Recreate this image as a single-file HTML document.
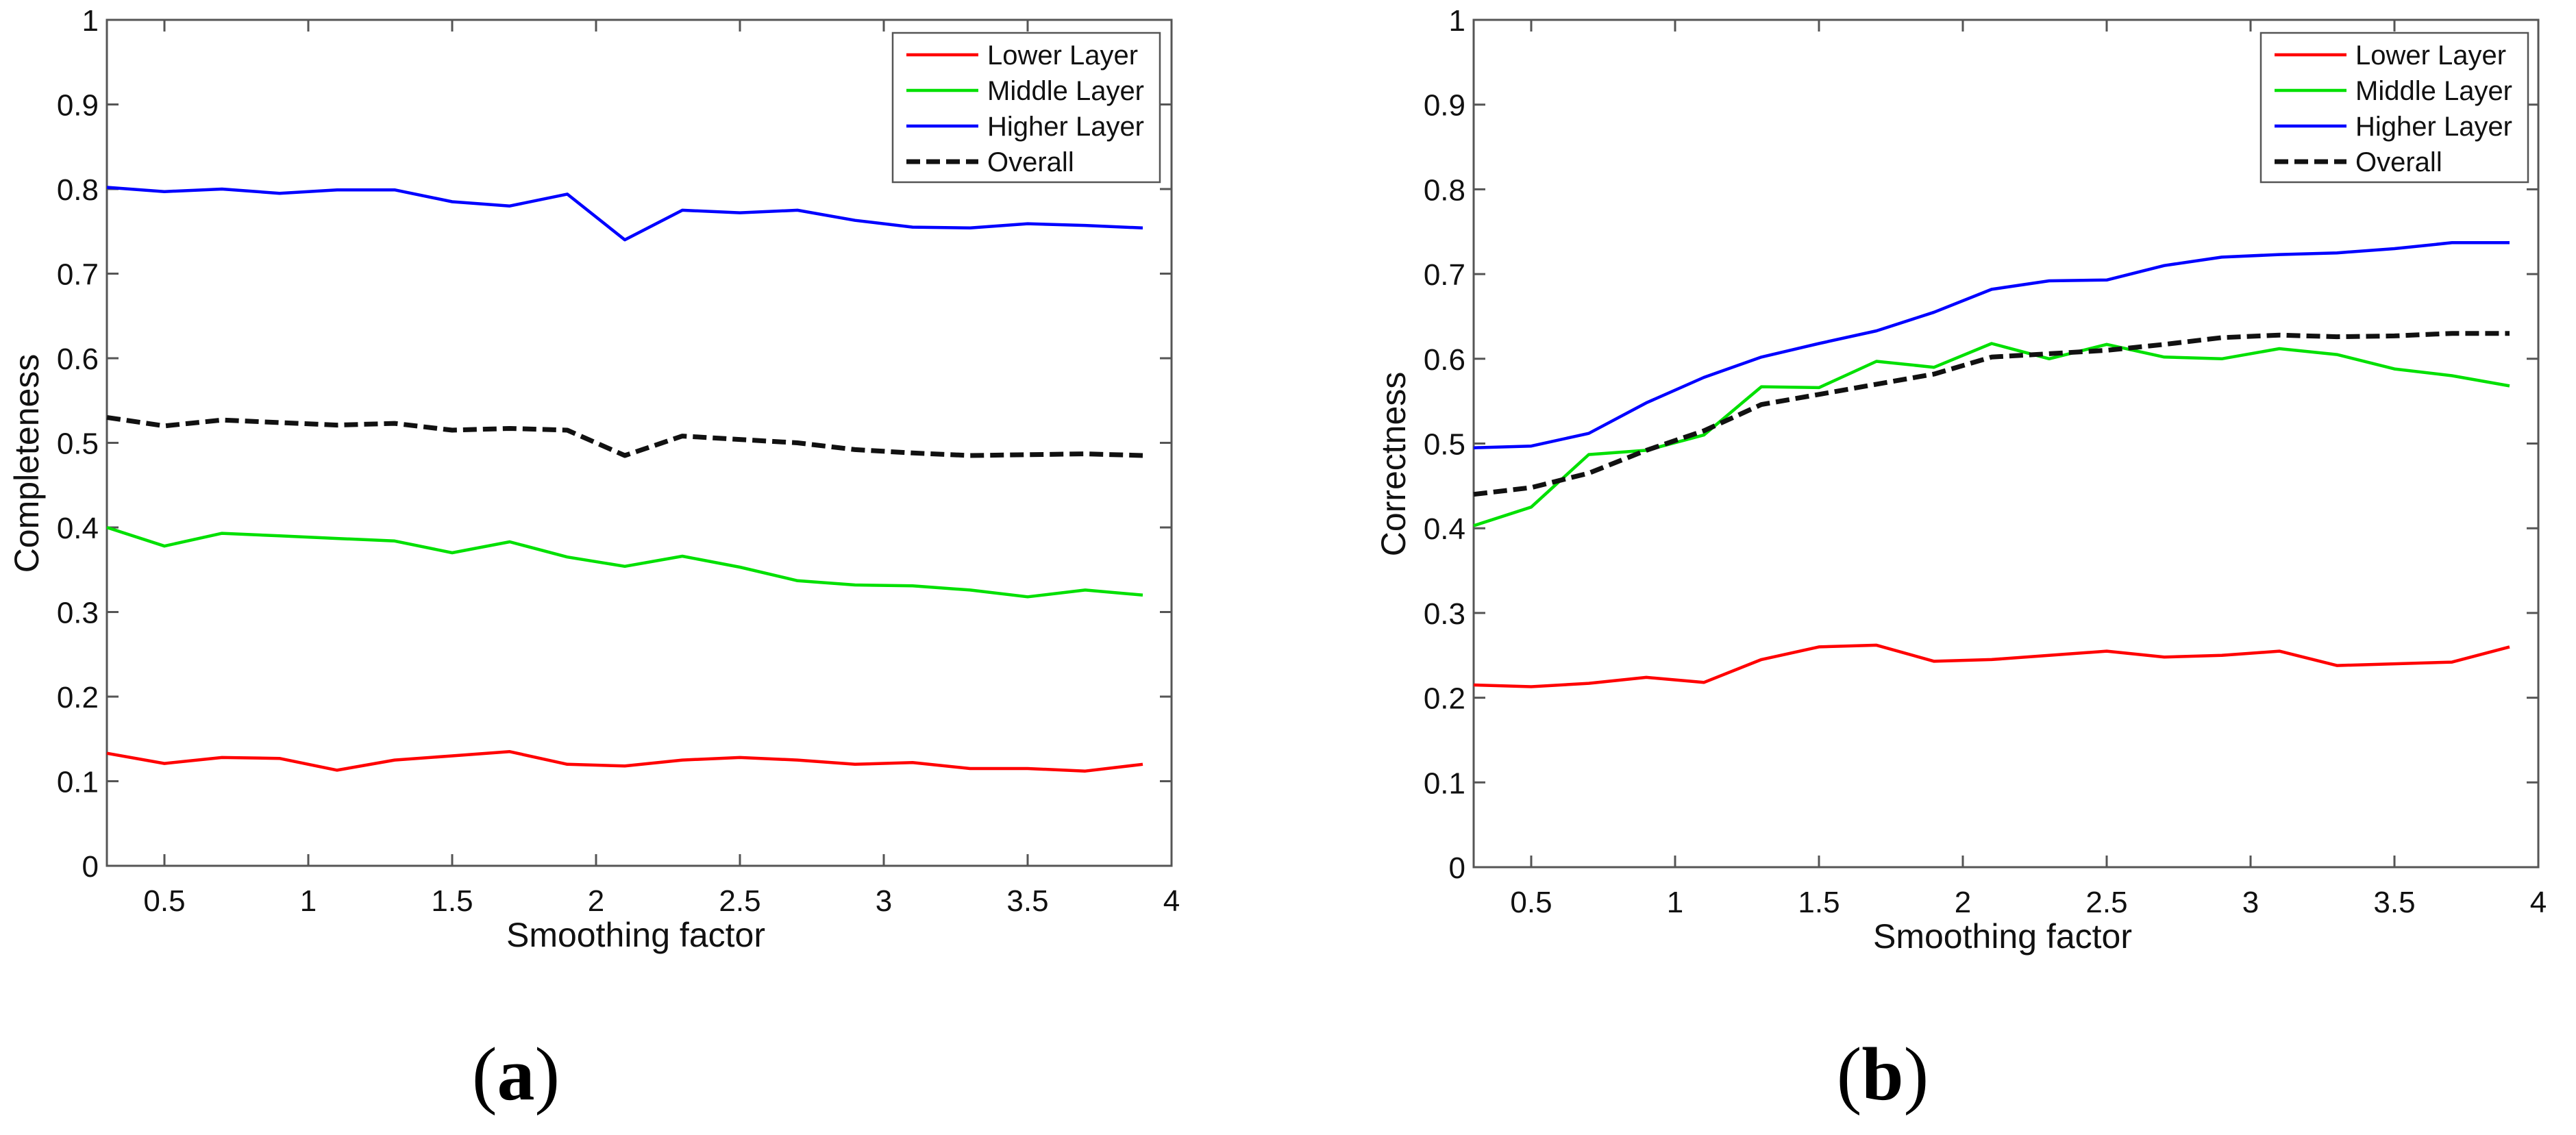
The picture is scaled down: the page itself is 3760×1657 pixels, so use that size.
<!DOCTYPE html>
<html><head><meta charset="utf-8"><style>
html,body{margin:0;padding:0;background:#fff;}
svg{display:block;font-family:"Liberation Sans",sans-serif;}
</style></head><body>
<svg id="chart" width="3760" height="1657" xmlns="http://www.w3.org/2000/svg"></svg>
<script>
const xValues = [0.3,0.5,0.7,0.9,1.1,1.3,1.5,1.7,1.9,2.1,2.3,2.5,2.7,2.9,3.1,3.3,3.5,3.7,3.9];
const xTicks = [0.5,1,1.5,2,2.5,3,3.5,4];
const yTicks = [0,0.1,0.2,0.3,0.4,0.5,0.6,0.7,0.8,0.9,1];
const seriesNames = ["Lower Layer","Middle Layer","Higher Layer","Overall"];
const compLower = [.133,.121,.128,.127,.113,.125,.130,.135,.120,.118,.125,.128,.125,.120,.122,.115,.115,.112,.120];
const compMiddle = [.400,.378,.393,.390,.387,.384,.370,.383,.365,.354,.366,.353,.337,.332,.331,.326,.318,.326,.320];
const compHigher = [.802,.797,.800,.795,.799,.799,.785,.780,.794,.740,.775,.772,.775,.763,.755,.754,.759,.757,.754];
const compOverall = [.530,.520,.527,.524,.521,.523,.515,.517,.515,.485,.508,.504,.500,.492,.488,.485,.486,.487,.485];
const corrLower = [.215,.213,.217,.224,.218,.245,.260,.262,.243,.245,.250,.255,.248,.250,.255,.238,.240,.242,.260];
const corrMiddle = [.403,.425,.487,.492,.510,.567,.566,.597,.590,.618,.600,.617,.602,.600,.612,.605,.588,.580,.568];
const corrHigher = [.495,.497,.512,.548,.578,.602,.618,.633,.655,.682,.692,.693,.710,.720,.723,.725,.730,.737,.737];
const corrOverall = [.440,.448,.465,.492,.515,.546,.558,.570,.582,.602,.606,.610,.617,.625,.628,.626,.627,.630,.630];

const NS="http://www.w3.org/2000/svg";
const svg=document.getElementById('chart');
function mk(tag,attrs,parent){const e=document.createElementNS(NS,tag);for(const k in attrs)e.setAttribute(k,attrs[k]);(parent||svg).appendChild(e);return e;}
const colors=["#ff0000","#00e000","#0000ff","#111111"];

function panel(id,L,T,R,B,ylabel,letter,data,legX){
  const g=mk('g',{});
  
  
  const xs=v=>L+(v-0.3)/(4-0.3)*(R-L);
  const ys=v=>B-v*(B-T);
  const frame=mk('rect',{x:L,y:T,width:R-L,height:B-T,fill:'none',stroke:'#555',"stroke-width":3},g);
  
  
  xTicks.forEach(t=>{
    const x=xs(t);
    if(t<4){mk('line',{x1:x,y1:B,x2:x,y2:B-17,stroke:'#555',"stroke-width":3},g);
    mk('line',{x1:x,y1:T,x2:x,y2:T+17,stroke:'#555',"stroke-width":3},g);}
    const tx=mk('text',{x:x,y:B+66,"font-size":44,"text-anchor":"middle",fill:'#111'},g);
    tx.textContent=String(t);
    
    
  });
  yTicks.forEach(t=>{
    const y=ys(t);
    if(t>0&&t<1){mk('line',{x1:L,y1:y,x2:L+17,y2:y,stroke:'#555',"stroke-width":3},g);
    mk('line',{x1:R,y1:y,x2:R-17,y2:y,stroke:'#555',"stroke-width":3},g);}
    const tx=mk('text',{x:L-12,y:y+16,"font-size":44,"text-anchor":"end",fill:'#111'},g);
    tx.textContent=String(t);
    
    
  });
  const xl=mk('text',{x:(L+R)/2-5,y:B+118,"font-size":50,"text-anchor":"middle",fill:'#111'},g);
  xl.textContent='Smoothing factor';
  
  
  const yl=mk('text',{x:0,y:0,"font-size":50,"text-anchor":"middle",fill:'#111',transform:`translate(${L-100},${(T+B)/2+30}) rotate(-90)`},g);
  yl.textContent=ylabel;
  
  
  data.forEach((arr,i)=>{
    const d=arr.map((v,j)=>(j?'L':'M')+xs(xValues[j]).toFixed(1)+' '+ys(v).toFixed(1)).join(' ');
    const p=mk('path',{d:d,fill:'none',stroke:colors[i],"stroke-width":i==3?7:4.5,"stroke-dasharray":i==3?'20 9':'none',"stroke-linejoin":"round"},g);
    
    
  });
  const lg=mk('g',{},g);
  
  
  mk('rect',{x:legX,y:48,width:390,height:218,fill:'#fff',stroke:'#555',"stroke-width":2.5},lg);
  seriesNames.forEach((n,i)=>{
    const y=80+i*52;
    mk('line',{x1:legX+20,y1:y,x2:legX+125,y2:y,stroke:colors[i],"stroke-width":i==3?7:4.5,"stroke-dasharray":i==3?'20 9':'none'},lg);
    const t=mk('text',{x:legX+138,y:y+14,"font-size":40,fill:'#111'},lg);
    t.textContent=n;
    
    
  });
  const lt=mk('text',{x:(L+R)/2-180,y:1605,"font-size":110,"text-anchor":"middle",fill:'#000',"font-family":"Liberation Serif, serif"},g);
  lt.innerHTML='(<tspan font-weight="bold">'+letter+'</tspan>)';
  
  
}
panel('completeness-chart',156,29,1710,1264,'Completeness','a',[compLower,compMiddle,compHigher,compOverall],1303);
panel('correctness-chart',2151,29,3705,1266,'Correctness','b',[corrLower,corrMiddle,corrHigher,corrOverall],3300);
</script>
</body></html>
